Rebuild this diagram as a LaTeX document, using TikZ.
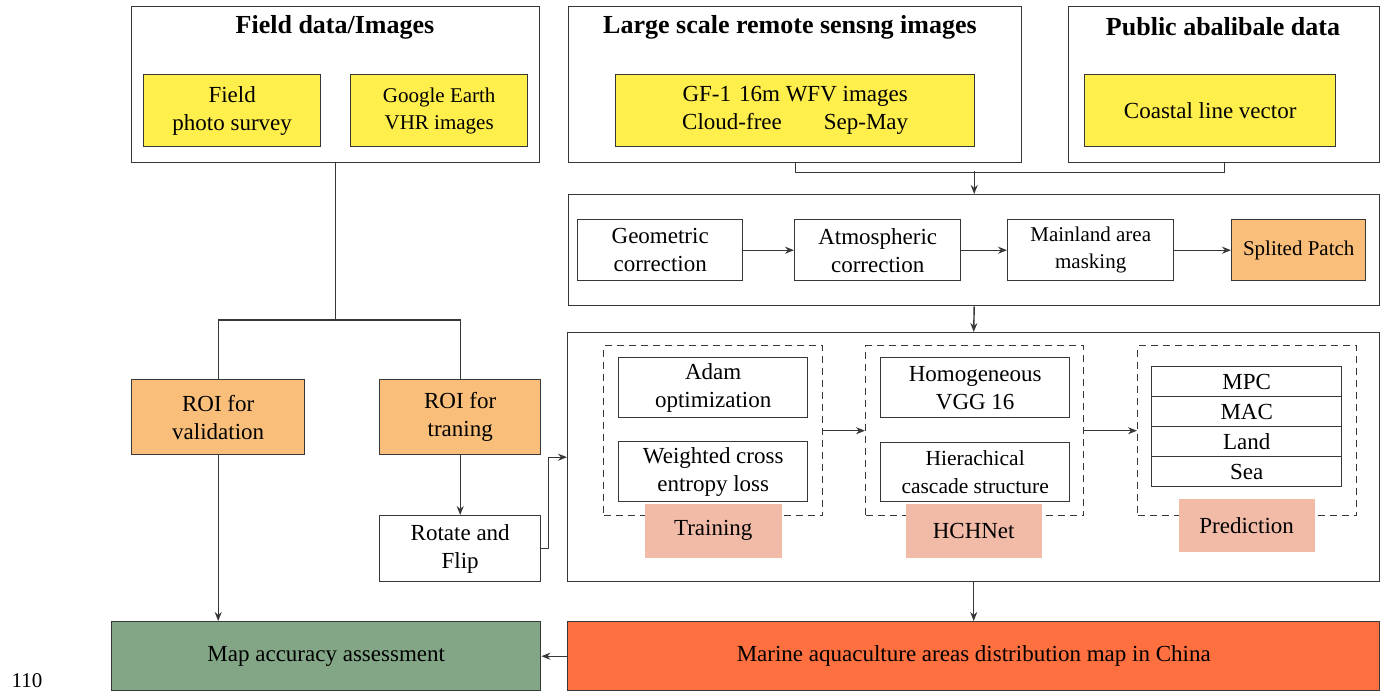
\documentclass[tikz,border=0pt]{standalone}
\usepackage{fontspec}
\setmainfont{Liberation Serif}
\usetikzlibrary{arrows.meta,calc}
\definecolor{lc}{RGB}{55,55,55}
\definecolor{yel}{RGB}{255,239,77}
\definecolor{org}{RGB}{249,191,122}
\definecolor{pnk}{RGB}{242,187,168}
\definecolor{grn}{RGB}{130,166,134}
\definecolor{mar}{RGB}{255,112,64}
\newcommand\fs[2]{\fontsize{#1}{#2}\selectfont}
\begin{document}
\begin{tikzpicture}[x=1pt,y=-1pt,
  bx/.style={draw=lc,line width=1.4pt,inner sep=0pt,align=center,anchor=north west,font=\fs{23}{28}},
  sz/.style 2 args={minimum width=#1,minimum height=#2},
  ttl/.style={inner sep=0pt,font=\fs{26}{30}\bfseries},
  dbox/.style={bx,dash pattern=on 7pt off 5pt},
  ln/.style={draw=lc,line width=1.4pt},
  arr/.style={draw=lc,line width=1.4pt,-{Stealth[length=9pt,width=7pt]}}]
\useasboundingbox (0,0) rectangle (1381,691);
% top row
\node[bx,sz={408}{156}] (field) at (131,6) {};
\node[ttl] (fieldT) at (335,27) {Field data/Images};
\node[bx,sz={177}{72},fill=yel] (fps) at (143,74) {Field\\photo survey};
\node[bx,sz={177}{72},fill=yel,font=\fs{21}{27}] (ge) at (350,74) {Google Earth\\VHR images};
\node[bx,sz={453}{156}] (large) at (568,6) {};
\node[ttl] (largeT) at (790,27) {Large scale remote sensng images};
\node[bx,sz={359}{72},fill=yel] (gf) at (615,74) {GF-1\hspace{8pt}16m WFV images\\Cloud-free\hspace{42pt}Sep-May};
\node[bx,sz={311}{156}] (public) at (1068,6) {};
\node[ttl] (publicT) at (1223,27) {Public abalibale data};
\node[bx,sz={251}{72},fill=yel] (coast) at (1084,74) {Coastal line vector};
% preprocessing
\node[bx,sz={811}{111}] (prep) at (568,194) {};
\node[bx,sz={165}{61}] (geo) at (577,219) {Geometric\\correction};
\node[bx,sz={166}{61}] (atm) at (794,219) {Atmospheric\\correction};
\node[bx,sz={166}{61},font=\fs{21}{27}] (mask) at (1007,219) {Mainland area\\masking};
\node[bx,sz={134}{61},fill=org,font=\fs{21}{27}] (split) at (1231,219) {Splited Patch};
% model block
\node[bx,sz={812}{249}] (big) at (567,332) {};
\node[dbox,sz={219}{170}] (train) at (603,345) {};
\node[bx,sz={189}{60}] (adam) at (618,357) {Adam\\optimization};
\node[bx,sz={189}{60}] (wce) at (618,441) {Weighted cross\\entropy loss};
\node[bx,draw=none,sz={137}{54},fill=pnk] (trainL) at (644,503) {Training};
\node[dbox,sz={218}{170}] (hch) at (865,345) {};
\node[bx,sz={189}{60}] (homo) at (880,357) {Homogeneous\\VGG 16};
\node[bx,sz={189}{59},font=\fs{21.5}{28}] (hier) at (880,442) {Hierachical\\cascade structure};
\node[bx,draw=none,sz={136}{54},fill=pnk] (hchL) at (905,503) {HCHNet};
\node[dbox,sz={219}{170}] (pred) at (1137,345) {};
\node[bx,sz={190}{30}] (mpc) at (1151,366) {MPC};
\node[bx,sz={190}{30}] (mac) at (1151,396) {MAC};
\node[bx,sz={190}{30}] (land) at (1151,426) {Land};
\node[bx,sz={190}{30}] (sea) at (1151,456) {Sea};
\node[bx,draw=none,sz={136}{53},fill=pnk] (predL) at (1178,498) {Prediction};
% left column
\node[bx,sz={173}{75},fill=org] (roival) at (131,379) {ROI for\\validation};
\node[bx,sz={161}{75},fill=org] (roitrain) at (379,379) {ROI for\\traning};
\node[bx,sz={161}{66}] (rot) at (379,515) {Rotate and\\Flip};
% bottom
\node[bx,sz={429}{69},fill=grn] (map) at (111,621) {Map accuracy assessment};
\node[bx,sz={812}{69},fill=mar] (marine) at (567,621) {Marine aquaculture areas distribution map in China};
\node[inner sep=0pt,font=\fs{21}{24}] (num) at (27,681) {110};
% connectors
\coordinate (tj) at ($(prep.north)+(0,-23)$);
\draw[ln] (large.south) -- ++(0,9) -| (public.south);
\draw[arr] (tj) -- (prep.north);
\draw[arr] (geo.east) -- (atm.west);
\draw[arr] (atm.east) -- (mask.west);
\draw[arr] (mask.east) -- (split.west);
\draw[arr] (prep.south) -- (big.north);
\draw[arr] (train.east) -- (hch.west);
\draw[arr] (hch.east) -- (pred.west);
\draw[arr] (big.south) -- (marine.north);
\draw[arr] (marine.west) -- (map.east);
\coordinate (fj) at (field.south |- 0,320);
\draw[ln] (field.south) -- (fj);
\draw[ln] (roival.north) |- (fj) -| (roitrain.north);
\draw[arr] (roitrain.south) -- (rot.north);
\draw[arr] (rot.east) -- ++(7,0) |- (big.west);
\draw[arr] (roival.south) -- (roival.south |- map.north);
\end{tikzpicture}
\end{document}
